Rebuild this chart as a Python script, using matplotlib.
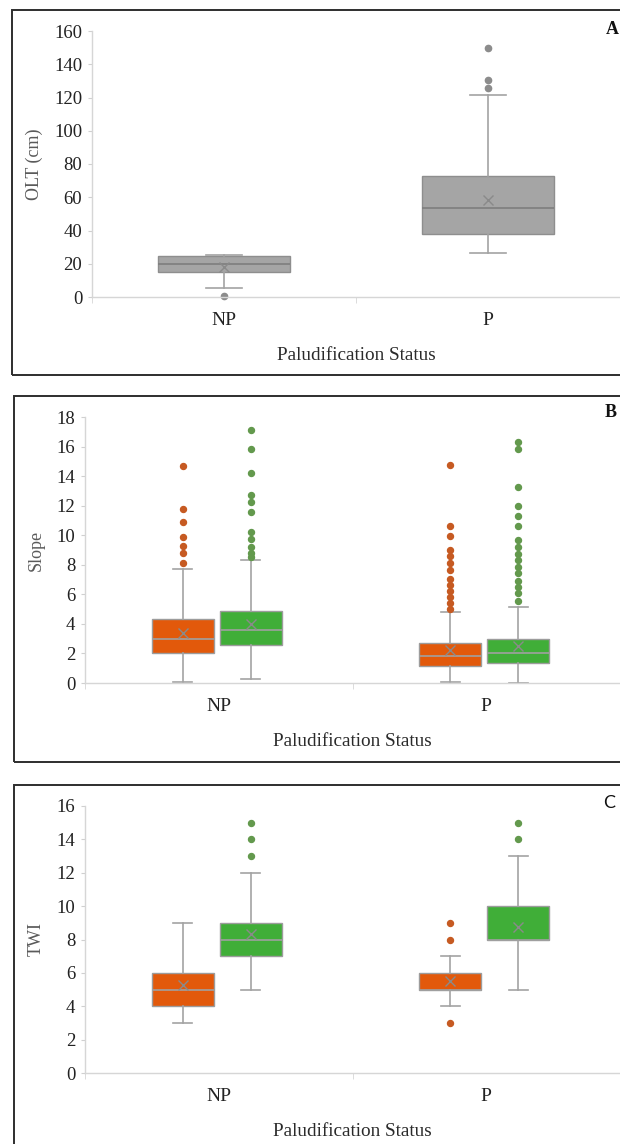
import matplotlib
matplotlib.use("Agg")
import matplotlib.pyplot as plt
from matplotlib.patches import Rectangle

# ---------------- data ----------------
categories = ["NP", "P"]

# Panel A : OLT (cm)
olt_q1 = [14.8, 38.0]
olt_med = [19.8, 53.5]
olt_q3 = [24.6, 72.5]
olt_mean = [18.3, 58.5]
olt_whislo = [5.2, 26.2]
olt_whishi = [25.0, 121.5]
olt_fliers = [[0.4], [125.5, 130.5, 150.0]]

# Panel B : Slope (orange series, green series)
slope_or_q1 = [2.0, 1.17]
slope_or_med = [3.0, 1.83]
slope_or_q3 = [4.35, 2.68]
slope_or_mean = [3.4, 2.23]
slope_or_whislo = [0.07, 0.1]
slope_or_whishi = [7.73, 4.83]
slope_or_fliers = [
    [8.1, 8.8, 9.25, 9.9, 10.87, 11.8, 14.7],
    [4.98, 5.43, 5.84, 6.25, 6.63, 7.01, 7.62, 8.14, 8.57, 9.0, 9.92, 10.62, 14.73],
]
slope_gr_q1 = [2.55, 1.38]
slope_gr_med = [3.6, 2.05]
slope_gr_q3 = [4.89, 2.95]
slope_gr_mean = [4.0, 2.5]
slope_gr_whislo = [0.29, 0.0]
slope_gr_whishi = [8.32, 5.12]
slope_gr_fliers = [
    [8.5, 8.78, 9.22, 9.72, 10.2, 11.59, 12.23, 12.72, 14.23, 15.83, 17.15],
    [5.55, 6.07, 6.52, 6.9, 7.42, 7.87, 8.32, 8.73, 9.22, 9.68, 10.62, 11.3,
     11.98, 13.24, 15.83, 16.29],
]

# Panel C : TWI (orange series, green series)
twi_or_q1 = [4, 5]
twi_or_med = [5, 5]
twi_or_q3 = [6, 6]
twi_or_mean = [5.3, 5.5]
twi_or_whislo = [3, 4]
twi_or_whishi = [9, 7]
twi_or_fliers = [[], [3, 8, 9]]
twi_gr_q1 = [7, 8]
twi_gr_med = [8, 8]
twi_gr_q3 = [9, 10]
twi_gr_mean = [8.3, 8.75]
twi_gr_whislo = [5, 5]
twi_gr_whishi = [12, 13]
twi_gr_fliers = [[13, 14, 15], [14, 15]]

y_ticks_a = [0, 20, 40, 60, 80, 100, 120, 140, 160]
y_ticks_b = [0, 2, 4, 6, 8, 10, 12, 14, 16, 18]
y_ticks_c = [0, 2, 4, 6, 8, 10, 12, 14, 16]

# ---------------- style ----------------
SERIF = ["Liberation Serif", "DejaVu Serif"]
plt.rcParams["font.family"] = SERIF
ORANGE = "#E2590B"
GREEN = "#40AE38"
ORANGE_FL = "#C65A22"
GREEN_FL = "#63994D"
GREY_FILL = "#A5A5A5"
EDGE = "#9C9C9C"
TICK_COL = "#222222"

W, H = 620, 1144
fig = plt.figure(figsize=(W / 100, H / 100), dpi=100)


def stats(q1, med, q3, mean, lo, hi, fl):
    return [dict(q1=q1[i], med=med[i], q3=q3[i], mean=mean[i],
                 whislo=lo[i], whishi=hi[i], fliers=fl[i]) for i in range(len(q1))]


def draw(ax, st, pos, width, capw, fill, edge, flcol, flsize, medcol):
    ax.bxp(st, positions=pos, widths=width, capwidths=capw, patch_artist=True,
           showmeans=True, manage_ticks=False,
           boxprops=dict(facecolor=fill, edgecolor=edge, linewidth=1.0),
           medianprops=dict(color=medcol, linewidth=1.2),
           whiskerprops=dict(color="#A3A3A3", linewidth=1.2),
           capprops=dict(color="#A3A3A3", linewidth=1.2),
           flierprops=dict(marker="o", markerfacecolor=flcol, markeredgecolor=flcol,
                           markersize=flsize, linestyle="none", clip_on=False),
           meanprops=dict(marker="x", markeredgecolor="#8A8A8A", markersize=7,
                          markeredgewidth=1.0))


def setup(ax, yticks, ylabel, ylab_x):
    ax.set_xlim(-0.5, 1.5)
    ax.set_ylim(yticks[0], yticks[-1])
    ax.set_yticks(yticks)
    ax.set_yticklabels([str(t) for t in yticks])
    ax.set_xticks([0, 1])
    ax.set_xticklabels(categories)
    ax.set_xticks([-0.5, 0.5, 1.5], minor=True)
    for s in ["top", "right"]:
        ax.spines[s].set_visible(False)
    ax.spines["left"].set_color("#D6D6D6")
    ax.spines["bottom"].set_color("#D6D6D6")
    ax.spines["left"].set_linewidth(1.0)
    ax.spines["bottom"].set_linewidth(1.0)
    ax.tick_params(axis="y", length=3, color="#D0D0D0", pad=4, labelsize=13.5,
                   labelcolor=TICK_COL)
    ax.tick_params(axis="x", which="major", length=0, pad=11, labelsize=14,
                   labelcolor=TICK_COL)
    ax.tick_params(axis="x", which="minor", length=4, color="#D6D6D6")
    ax.set_facecolor("none")
    h_px = ax.get_position().height * H
    ax.text(0.5, -59 / h_px, "Paludification Status", transform=ax.transAxes,
            ha="center", va="center", fontsize=13.8, color="#2A2A2A")
    ax.text(ylab_x, 0.5, ylabel, transform=ax.transAxes, rotation=90,
            ha="center", va="center", fontsize=13, color="#5A5A5A")


def frame(top, bottom, left):
    fig.patches.append(Rectangle((left / W, 1 - bottom / H), (W + 20 - left) / W,
                                 (bottom - top) / H, transform=fig.transFigure,
                                 fill=False, edgecolor="#2E2E2E", linewidth=1.4,
                                 clip_on=False))


# frames
frame(10, 375, 12)
frame(396, 762, 14)
frame(785, 1170, 14)

# ---------------- Panel A ----------------
axA = fig.add_axes([92 / W, 1 - 297 / H, 528 / W, 266 / H])
draw(axA, stats(olt_q1, olt_med, olt_q3, olt_mean, olt_whislo, olt_whishi, olt_fliers),
     [0, 1], 0.5, 0.14, GREY_FILL, "#8E8E8E", "#8C8C8C", 4.5, "#7E7E7E")
setup(axA, y_ticks_a, "OLT (cm)", (34 - 92) / 528)

# ---------------- Panel B ----------------
OFF_OR, OFF_GR, BW, CW = -0.135, 0.12, 0.232, 0.07
axB = fig.add_axes([85 / W, 1 - 683 / H, 535 / W, 266 / H])
draw(axB, stats(slope_or_q1, slope_or_med, slope_or_q3, slope_or_mean,
                slope_or_whislo, slope_or_whishi, slope_or_fliers),
     [i + OFF_OR for i in range(2)], BW, CW, ORANGE, EDGE, ORANGE_FL, 4.3, "#A0A0A0")
draw(axB, stats(slope_gr_q1, slope_gr_med, slope_gr_q3, slope_gr_mean,
                slope_gr_whislo, slope_gr_whishi, slope_gr_fliers),
     [i + OFF_GR for i in range(2)], BW, CW, GREEN, EDGE, GREEN_FL, 4.3, "#A0A0A0")
setup(axB, y_ticks_b, "Slope", (36 - 85) / 535)

# ---------------- Panel C ----------------
axC = fig.add_axes([85 / W, 1 - 1073 / H, 535 / W, 267 / H])
draw(axC, stats(twi_or_q1, twi_or_med, twi_or_q3, twi_or_mean,
                twi_or_whislo, twi_or_whishi, twi_or_fliers),
     [i + OFF_OR for i in range(2)], BW, CW, ORANGE, EDGE, ORANGE_FL, 4.3, "#A0A0A0")
draw(axC, stats(twi_gr_q1, twi_gr_med, twi_gr_q3, twi_gr_mean,
                twi_gr_whislo, twi_gr_whishi, twi_gr_fliers),
     [i + OFF_GR for i in range(2)], BW, CW, GREEN, EDGE, GREEN_FL, 4.3, "#A0A0A0")
setup(axC, y_ticks_c, "TWI", (36 - 85) / 535)

# panel letters
fig.text(612 / W, 1 - 30 / H, "A", ha="center", va="center", fontsize=13,
         fontweight="bold", color="#111111")
fig.text(611 / W, 1 - 412 / H, "B", ha="center", va="center", fontsize=13,
         fontweight="bold", color="#111111")
fig.text(609 / W, 1 - 803 / H, "C", ha="center", va="center", fontsize=13,
         family=["Lato", "DejaVu Sans"], color="#111111")

fig.savefig("out.png", dpi=100, facecolor="white")
